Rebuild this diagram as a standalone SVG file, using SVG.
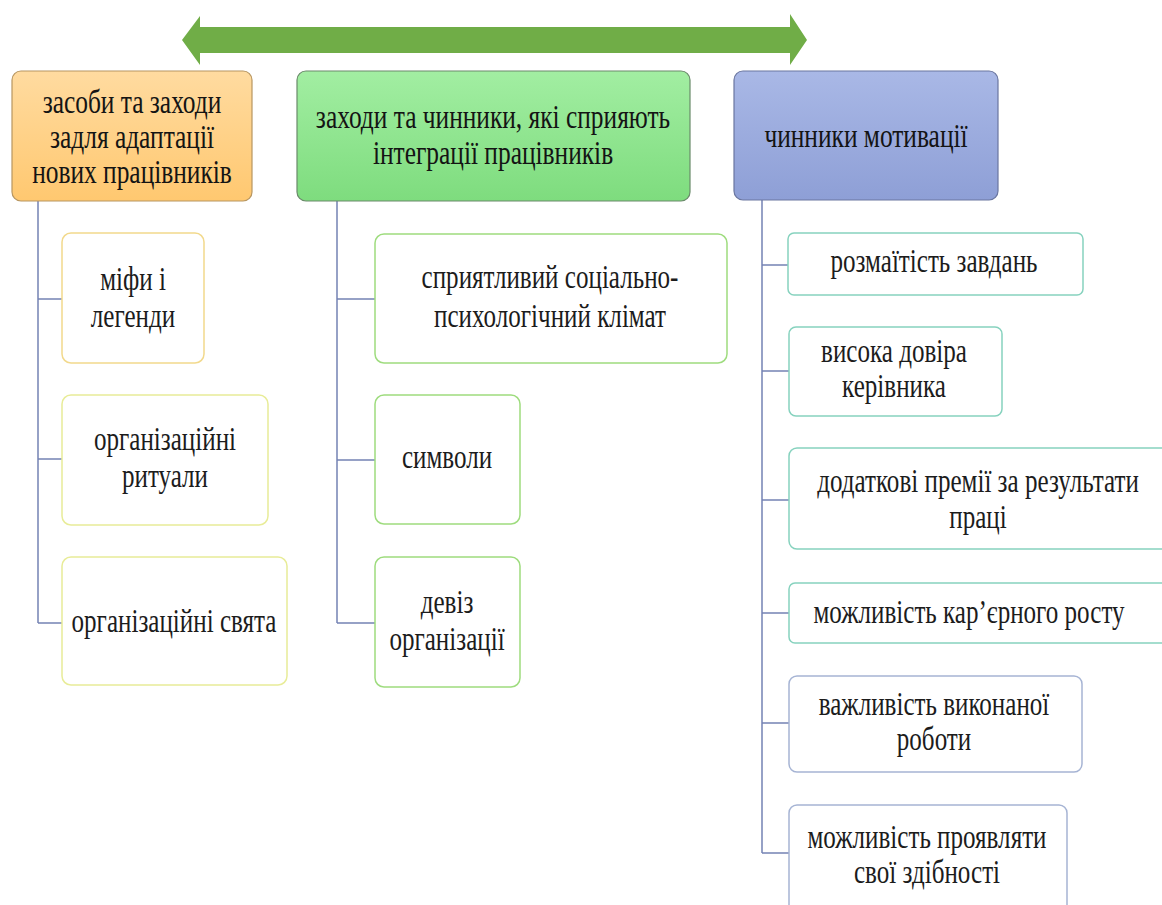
<svg xmlns="http://www.w3.org/2000/svg" width="1162" height="905" viewBox="0 0 1162 905">
<defs>
<linearGradient id="gOr" x1="0" y1="0" x2="0" y2="1"><stop offset="0" stop-color="#FFDBA0"/><stop offset="1" stop-color="#FFC870"/></linearGradient>
<linearGradient id="gGr" x1="0" y1="0" x2="0" y2="1"><stop offset="0" stop-color="#A2EEA2"/><stop offset="1" stop-color="#7EDC7E"/></linearGradient>
<linearGradient id="gBl" x1="0" y1="0" x2="0" y2="1"><stop offset="0" stop-color="#A9B8E6"/><stop offset="1" stop-color="#8E9FD6"/></linearGradient>
</defs>
<style>
text{font-size:33px;fill:#1c1c1c;text-anchor:middle}
.h{fill:#141414}
.conn{fill:none;stroke:#7482B4;stroke-width:1.5}
.cy{fill:#fff;stroke:#F2D98C;stroke-width:1.5}
.cy2{fill:#fff;stroke:#E8EC98;stroke-width:1.5}
.cg{fill:#fff;stroke:#9EDC7E;stroke-width:1.5}
.ct{fill:#fff;stroke:#86D2BE;stroke-width:1.5}
.cb{fill:#fff;stroke:#A6B4D4;stroke-width:1.5}
</style>
<rect width="1162" height="905" fill="#fff"/>

<g id="connectors">
<polygon points="182,40 200,16 200,27 790,27 790,14 807,40 790,65 790,53 200,53 200,65" fill="#70AD47"/>
<path class="conn" d="M38,201 V623 M38,299 H62 M38,459 H62 M38,623 H62"/>
<path class="conn" d="M337,201 V623 M337,299 H375 M337,460 H375 M337,623 H375"/>
<path class="conn" d="M762,200 V853 M762,265 H788 M762,371 H789 M762,500 H789 M762,613 H789 M762,723 H789 M762,853 H789"/>
</g>

<g font-family="Liberation Serif, Times New Roman, serif">
<g id="h1">
<rect x="12" y="71" width="240" height="130" rx="9" fill="url(#gOr)" stroke="#B89660" stroke-width="1.2"/>
<text class="h" transform="translate(132,0) scale(0.77,1)"><tspan x="0" y="113">засоби та заходи</tspan><tspan x="0" y="148">задля адаптації</tspan><tspan x="0" y="183">нових працівників</tspan></text>
</g>
<g id="h2">
<rect x="297" y="71" width="393" height="130" rx="9" fill="url(#gGr)" stroke="#6A8A6A" stroke-width="1.2"/>
<text class="h" transform="translate(493,0) scale(0.77,1)"><tspan x="0" y="128">заходи та чинники, які сприяють</tspan><tspan x="0" y="164">інтеграції працівників</tspan></text>
</g>
<g id="h3">
<rect x="734" y="71" width="264" height="129" rx="9" fill="url(#gBl)" stroke="#6A76A0" stroke-width="1.2"/>
<text class="h" transform="translate(866,0) scale(0.77,1)"><tspan x="0" y="147">чинники мотивації</tspan></text>
</g>

<g id="l1"><rect class="cy" x="62" y="233" width="142" height="130" rx="9"/>
<text transform="translate(133,0) scale(0.76,1)"><tspan x="0" y="290">міфи і</tspan><tspan x="0" y="327">легенди</tspan></text></g>
<g id="l2"><rect class="cy2" x="62" y="395" width="206" height="130" rx="9"/>
<text transform="translate(165,0) scale(0.76,1)"><tspan x="0" y="450">організаційні</tspan><tspan x="0" y="487">ритуали</tspan></text></g>
<g id="l3"><rect class="cy2" x="62" y="557" width="225" height="128" rx="9"/>
<text transform="translate(174,0) scale(0.76,1)"><tspan x="0" y="632">організаційні свята</tspan></text></g>

<g id="m1"><rect class="cg" x="375" y="234" width="352" height="129" rx="9"/>
<text transform="translate(550,0) scale(0.76,1)"><tspan x="0" y="288">сприятливий соціально-</tspan><tspan x="0" y="327">психологічний клімат</tspan></text></g>
<g id="m2"><rect class="cg" x="375" y="395" width="145" height="129" rx="9"/>
<text transform="translate(447,0) scale(0.76,1)"><tspan x="0" y="468">символи</tspan></text></g>
<g id="m3"><rect class="cg" x="375" y="557" width="145" height="130" rx="9"/>
<text transform="translate(447,0) scale(0.76,1)"><tspan x="0" y="613">девіз</tspan><tspan x="0" y="650">організації</tspan></text></g>

<g id="r1"><rect class="ct" x="788" y="233" width="295" height="62" rx="6"/>
<text transform="translate(934,0) scale(0.76,1)"><tspan x="0" y="272">розмаїтість завдань</tspan></text></g>
<g id="r2"><rect class="ct" x="789" y="327" width="213" height="89" rx="7"/>
<text transform="translate(894,0) scale(0.76,1)"><tspan x="0" y="362">висока довіра</tspan><tspan x="0" y="397">керівника</tspan></text></g>
<g id="r3"><rect class="ct" x="789" y="448" width="400" height="101" rx="8"/>
<text transform="translate(978,0) scale(0.76,1)"><tspan x="0" y="492">додаткові премії за результати</tspan><tspan x="0" y="528">праці</tspan></text></g>
<g id="r4"><rect class="ct" x="789" y="583" width="400" height="60" rx="6"/>
<text transform="translate(969,0) scale(0.76,1)"><tspan x="0" y="623">можливість кар’єрного росту</tspan></text></g>
<g id="r5"><rect class="cb" x="789" y="676" width="293" height="96" rx="8"/>
<text transform="translate(934,0) scale(0.76,1)"><tspan x="0" y="715">важливість виконаної</tspan><tspan x="0" y="750">роботи</tspan></text></g>
<g id="r6"><rect class="cb" x="789" y="805" width="278" height="130" rx="8"/>
<text transform="translate(927,0) scale(0.76,1)"><tspan x="0" y="848">можливість проявляти</tspan><tspan x="0" y="883">свої здібності</tspan></text></g>
</g>
</svg>
